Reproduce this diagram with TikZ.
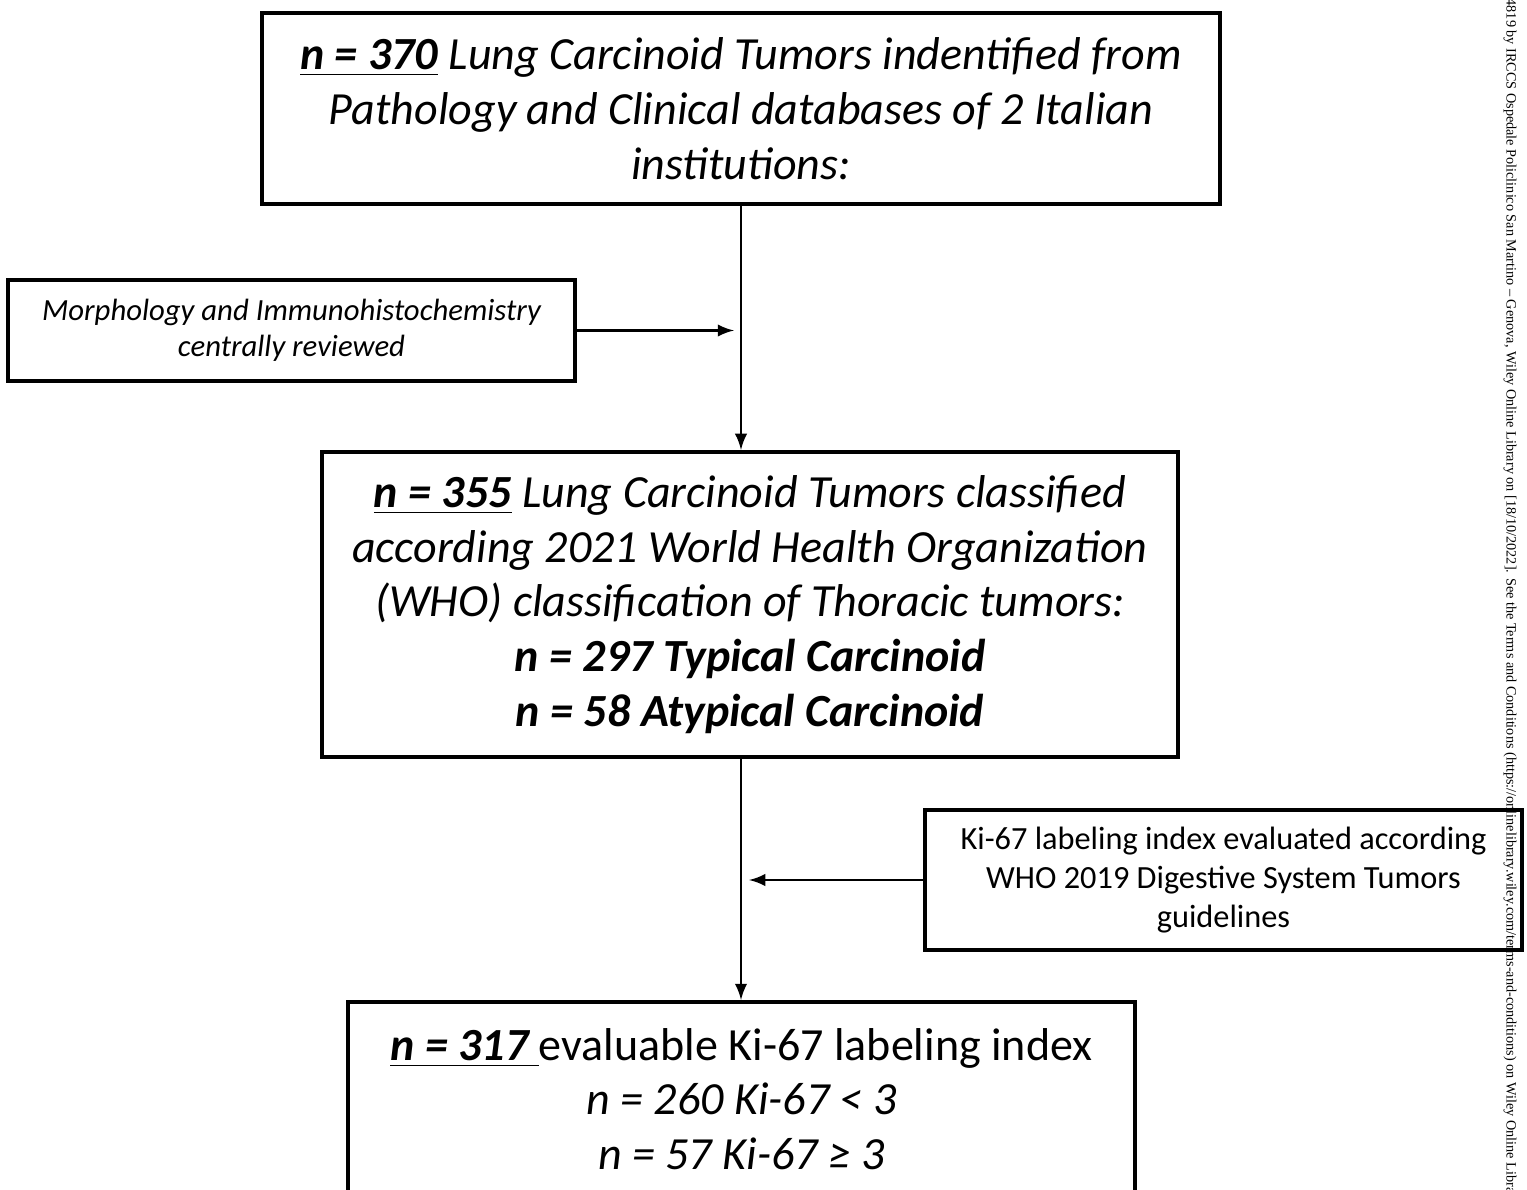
\documentclass[tikz,border=0pt]{standalone}
\usepackage{fontspec}
\setmainfont{Carlito}
\newfontfamily\wileyfont{Liberation Serif}
\usetikzlibrary{arrows,positioning}

\begin{document}
\begin{tikzpicture}[
  flowbox/.style={draw, line width=1.2pt, align=center, inner sep=0pt,
    font=\fontsize{13.1}{15.6}\selectfont\itshape},
  sidebox/.style={draw, line width=1.2pt, align=center, inner sep=0pt},
  flowarrow/.style={-latex, line width=0.6pt}]
\useasboundingbox (0,0) rectangle (15.27,-11.90);
% main chain
\node[flowbox, minimum width=9.58cm, minimum height=1.91cm] (n370) at (7.41,-1.085)
{\underline{\textbf{n = 370}} Lung Carcinoid Tumors indentified from\\
Pathology and Clinical databases of 2 Italian\\ institutions:};
\node[flowbox, minimum width=8.56cm, minimum height=3.05cm] (n355) at (7.50,-6.045)
{\underline{\textbf{n = 355}} Lung Carcinoid Tumors classified\\
according 2021 World Health Organization\\
(WHO) classification of Thoracic tumors:\\
\textbf{n = 297 Typical Carcinoid}\\ \textbf{n = 58 Atypical Carcinoid}};
\node[flowbox, minimum width=7.87cm, minimum height=1.94cm, anchor=north] (n317) at (7.415,-10.00)
{\underline{\textbf{n = 317}\ }{\upshape evaluable Ki-67 labeling index}\\
n = 260 Ki-67 < 3\\ n = 57 Ki-67 ≥ 3};
% side boxes
\node[sidebox, font=\fontsize{8.75}{10.2}\selectfont\itshape, minimum width=5.67cm, minimum height=1.01cm] (morph) at (2.915,-3.305)
{Morphology and Immunohistochemistry\\ centrally reviewed};
\node[sidebox, font=\fontsize{9.2}{11}\selectfont, minimum width=5.97cm, minimum height=1.40cm] (ki67) at (12.235,-8.80)
{Ki-67 labeling index evaluated according\\ WHO 2019 Digestive System Tumors\\ guidelines};
% arrows
\draw[flowarrow] (n370.south) -- (n355.north -| n370.south);
\draw[flowarrow] (n355.south -| n370.south) -- (n317.north -| n370.south);
\draw[flowarrow, shorten >=2pt] (morph.east) -- (morph.east -| n370.south);
\draw[flowarrow, shorten >=2.3pt] (ki67.west) -- (ki67.west -| n370.south);
% margin note
\node[rotate=-90, anchor=west, inner sep=0pt, font=\wileyfont\fontsize{4.05}{4.2}\selectfont] (wiley) at (15.10,0.02)
{4819 by IRCCS Ospedale Policlinico San Martino – Genova, Wiley Online Library on [18/10/2022]. See the Terms and Conditions (https://onlinelibrary.wiley.com/terms-and-conditions) on Wiley Online Library};
\end{tikzpicture}
\end{document}
